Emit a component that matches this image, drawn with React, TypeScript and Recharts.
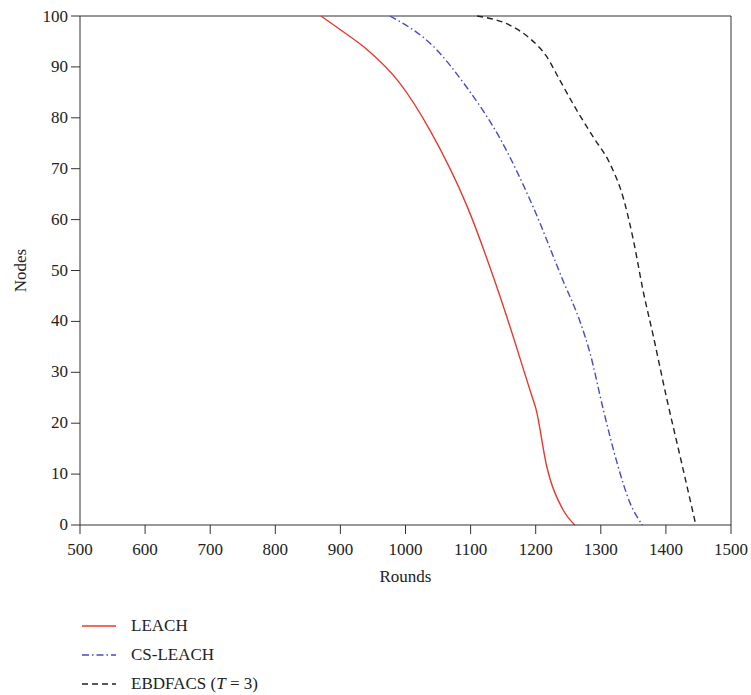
import React from 'react';
import {
	LineChart,
	Line,
	XAxis,
	YAxis,
	ReferenceLine,
} from 'recharts';

// values: [round, alive nodes]
const leachRounds = [870, 900, 940, 990, 1040, 1095, 1145, 1195, 1200, 1217, 1242, 1260];
const leachNodes = [100, 97.3, 93.5, 87, 77, 62.5, 45, 25, 23, 11.5, 3, 0];

const csRounds = [976, 1043, 1094, 1145, 1196, 1242, 1268, 1283, 1304, 1325, 1345, 1364];
const csNodes = [100, 94, 86, 76, 62.5, 48, 40, 34, 22.6, 12.2, 4.3, 0];

const ebdRounds = [1110, 1160, 1190, 1217, 1237, 1263, 1288, 1314, 1334, 1350, 1365, 1380, 1401, 1422, 1446];
const ebdNodes = [100, 98.2, 95.7, 92, 87.4, 81.5, 76.3, 71, 64.5, 56, 46, 37.5, 25, 13.4, 0];

const xTicks = [500, 600, 700, 800, 900, 1000, 1100, 1200, 1300, 1400, 1500];
const yTicks = [0, 10, 20, 30, 40, 50, 60, 70, 80, 90, 100];

const toPoints = (xs: number[], ys: number[]) =>
	xs.map((x, i) => ({ rounds: x, nodes: ys[i] }));

const leach = toPoints(leachRounds, leachNodes);
const csLeach = toPoints(csRounds, csNodes);
const ebdfacs = toPoints(ebdRounds, ebdNodes);

const FONT = '"Liberation Serif", "DejaVu Serif", serif';
const AXIS = '#333';
const textStyle = { fontFamily: FONT, fontSize: 17, fill: '#222' };

const legendItems = [
	{ label: <>LEACH</>, color: '#e8392e', dash: undefined },
	{ label: <>CS-LEACH</>, color: '#4a4ac4', dash: '7 3 1.5 3' },
	{
		label: (
			<>
				EBDFACS (<i>T</i> = 3)
			</>
		),
		color: '#222',
		dash: '6 4',
	},
];

const XTick = ({ x, y, payload }: any) => (
	<text x={x} y={y + 19} textAnchor="middle" style={textStyle}>
		{payload.value}
	</text>
);

const YTick = ({ x, y, payload }: any) => (
	<text x={x - 1} y={y + 5} textAnchor="end" style={textStyle}>
		{payload.value}
	</text>
);

export default function App() {
	return (
		<div
			style={{
				width: 751,
				height: 695,
				padding: 8,
				boxSizing: 'border-box',
				position: 'relative',
				fontFamily: FONT,
				background: '#fff',
			}}
		>
			<style>{'body { margin: 0; }'}</style>
			<LineChart
				width={743}
				height={580}
				margin={{ top: 8, right: 20, left: 0, bottom: 23 }}
			>
				<XAxis
					type="number"
					dataKey="rounds"
					domain={[500, 1500]}
					ticks={xTicks}
					allowDataOverflow
					tick={<XTick />}
					stroke={AXIS}
					tickSize={9}
					height={40}
					label={{
						value: 'Rounds',
						position: 'insideBottom',
						offset: -17,
						style: textStyle,
					}}
				/>
				<YAxis
					type="number"
					dataKey="nodes"
					domain={[0, 100]}
					ticks={yTicks}
					tick={<YTick />}
					stroke={AXIS}
					tickSize={9}
					width={72}
					label={{
						value: 'Nodes',
						angle: -90,
						position: 'insideLeft',
						offset: 12,
						style: { ...textStyle, textAnchor: 'middle' },
					}}
				/>
				<ReferenceLine y={100} stroke={AXIS} strokeWidth={1} />
				<ReferenceLine x={1500} stroke={AXIS} strokeWidth={1} />

				<Line
					data={leach}
					dataKey="nodes"
					type="monotone"
					stroke="#e8392e"
					strokeWidth={1.4}
					dot={false}
					isAnimationActive={false}
				/>
				<Line
					data={csLeach}
					dataKey="nodes"
					type="monotone"
					stroke="#4a4ac4"
					strokeWidth={1.4}
					strokeDasharray="7 3 1.5 3"
					dot={false}
					isAnimationActive={false}
				/>
				<Line
					data={ebdfacs}
					dataKey="nodes"
					type="monotone"
					stroke="#222"
					strokeWidth={1.4}
					strokeDasharray="6 4"
					dot={false}
					isAnimationActive={false}
				/>
			</LineChart>

			{legendItems.map((item, i) => (
				<div
					key={i}
					style={{
						position: 'absolute',
						left: 82,
						top: 616 + i * 29,
						display: 'flex',
						alignItems: 'center',
						height: 20,
						lineHeight: '20px',
						fontSize: 17,
						color: '#222',
						whiteSpace: 'nowrap',
					}}
				>
					<svg width={34} height={10} style={{ marginRight: 15 }}>
						<line
							x1={0}
							y1={5}
							x2={34}
							y2={5}
							stroke={item.color}
							strokeWidth={1.4}
							strokeDasharray={item.dash}
						/>
					</svg>
					<span>{item.label}</span>
				</div>
			))}
		</div>
	);
}
